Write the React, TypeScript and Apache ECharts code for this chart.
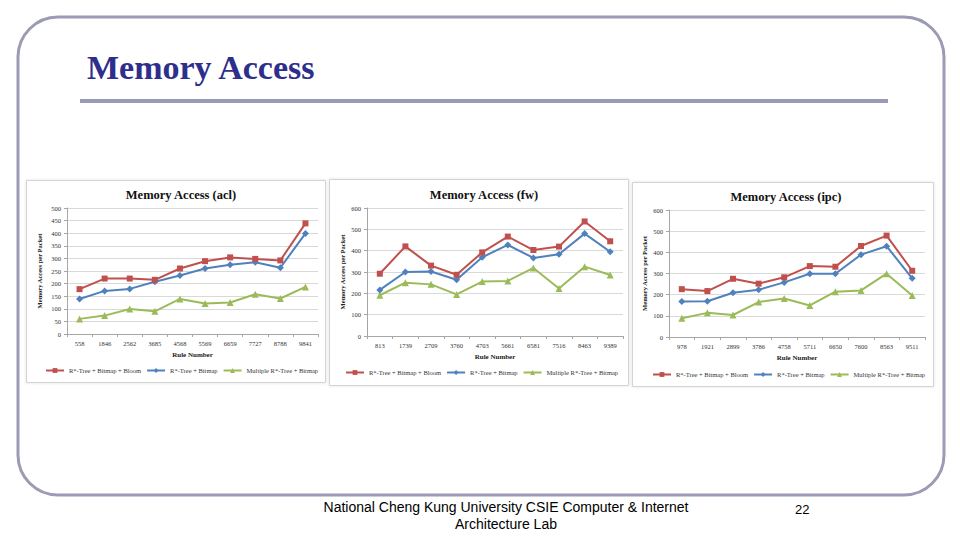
import React, { useEffect, useRef } from "react";
import * as echarts from "echarts";

const seriesNames = ["R*-Tree + Bitmap + Bloom", "R*-Tree + Bitmap", "Multiple R*-Tree + Bitmap"];
const seriesColors = ["#c0504d", "#4f81bd", "#9bbb59"];
const seriesSymbols = ["rect", "diamond", "triangle"];

const chartTitles = ["Memory Access (acl)", "Memory Access (fw)", "Memory Access (ipc)"];

const categoriesAcl = ["558", "1846", "2562", "3685", "4568", "5569", "6659", "7727", "8788", "9841"];
const categoriesFw = ["813", "1739", "2709", "3760", "4703", "5661", "6581", "7516", "8463", "9389"];
const categoriesIpc = ["978", "1921", "2899", "3786", "4758", "5711", "6650", "7600", "8563", "9511"];

const aclBloom = [178, 220, 220, 215, 260, 289, 304, 298, 292, 439];
const aclBitmap = [139, 171, 179, 207, 232, 260, 275, 285, 263, 399];
const aclMultiple = [60, 73, 99, 90, 139, 121, 125, 158, 141, 187];

const fwBloom = [292, 420, 330, 287, 392, 466, 403, 419, 537, 444];
const fwBitmap = [216, 300, 302, 264, 369, 427, 366, 383, 480, 395];
const fwMultiple = [191, 250, 242, 195, 255, 258, 319, 223, 325, 286];

const ipcBloom = [226, 217, 275, 252, 282, 335, 332, 430, 479, 313];
const ipcBitmap = [168, 169, 209, 223, 258, 299, 299, 389, 429, 277];
const ipcMultiple = [89, 114, 104, 165, 182, 149, 214, 220, 299, 196];

const yMax = [500, 600, 600];
const yInterval = [50, 100, 100];

const chartCategories = [categoriesAcl, categoriesFw, categoriesIpc];
const chartValues = [
  [aclBloom, aclBitmap, aclMultiple],
  [fwBloom, fwBitmap, fwMultiple],
  [ipcBloom, ipcBitmap, ipcMultiple],
];

// layout
const panels = [
  { x: 26, y: 180, w: 299, h: 202 },
  { x: 329, y: 179, w: 299, h: 206 },
  { x: 632, y: 182, w: 301, h: 204 },
];
const grids = [
  { left: 67, top: 208, width: 251, height: 126 },
  { left: 367, top: 208, width: 256, height: 128 },
  { left: 669, top: 210, width: 256, height: 127 },
];
const titlePos = [{ x: 176, y: 183 }, { x: 479, y: 183 }, { x: 781, y: 185 }];
const legendTop = [367, 369, 371];
const legendLeft = [45, 345, 652];
const yNameGap = [24, 21, 21];

const serif = "'Liberation Serif', 'DejaVu Serif', serif";

export default function App() {
  const ref = useRef<HTMLDivElement>(null);
  useEffect(() => {
    if (!ref.current) return;
    const chart = echarts.init(ref.current, null, { renderer: "svg" });

    const grid = grids.map((g) => ({ ...g, containLabel: false }));
    const xAxis = chartCategories.map((cats, i) => ({
      type: "category",
      gridIndex: i,
      data: cats,
      boundaryGap: true,
      name: "Rule Number",
      nameLocation: "middle",
      nameGap: 17,
      nameTextStyle: { fontFamily: serif, fontSize: 7, fontWeight: "bold", color: "#222" },
      axisLine: { lineStyle: { color: "#a6a6a6", width: 1 } },
      axisTick: { show: true, length: 3, lineStyle: { color: "#a6a6a6" } },
      axisLabel: { fontFamily: serif, fontSize: 6.5, color: "#333", margin: 6, interval: 0 },
      splitLine: { show: false },
    }));
    const yAxis = yMax.map((m, i) => ({
      type: "value",
      gridIndex: i,
      min: 0,
      max: m,
      interval: yInterval[i],
      name: "Memory Access per Packet",
      nameLocation: "middle",
      nameRotate: 90,
      nameGap: yNameGap[i],
      nameTextStyle: { fontFamily: serif, fontSize: 6.5, fontWeight: "bold", color: "#222" },
      axisLine: { show: true, lineStyle: { color: "#a6a6a6", width: 1 } },
      axisTick: { show: true, length: 3, lineStyle: { color: "#a6a6a6" } },
      axisLabel: { fontFamily: serif, fontSize: 6.5, color: "#333", margin: 6 },
      splitLine: { show: true, lineStyle: { color: "#d9d9d9", width: 1 } },
    }));

    const series: any[] = [];
    chartValues.forEach((vals, ci) => {
      vals.forEach((v, si) => {
        series.push({
          type: "line",
          name: seriesNames[si],
          xAxisIndex: ci,
          yAxisIndex: ci,
          data: v,
          symbol: seriesSymbols[si],
          symbolSize: si === 0 ? 6 : 7,
          showSymbol: true,
          color: seriesColors[si],
          lineStyle: { width: 2, color: seriesColors[si] },
          itemStyle: { color: seriesColors[si] },
          z: 5 - si,
        });
      });
    });

    const legend = legendLeft.map((l, i) => ({
      data: seriesNames,
      left: l,
      top: legendTop[i],
      width: 300,
      padding: 0,
      orient: "horizontal",
      itemWidth: 18,
      itemHeight: 6,
      itemGap: 5,
      selectedMode: false,
      textStyle: { fontFamily: serif, fontSize: 6.5, color: "#333" },
    }));

    const title = chartTitles.map((t, i) => ({
      text: t,
      left: titlePos[i].x,
      top: titlePos[i].y,
      textAlign: "center",
      textStyle: { fontFamily: serif, fontSize: 12.5, fontWeight: "bold", color: "#111" },
    }));

    const graphic: any[] = [
      {
        type: "rect",
        z: -20,
        shape: { x: 18, y: 17, width: 926, height: 478, r: 40 },
        style: { fill: "#ffffff", stroke: "#9b9bb5", lineWidth: 3 },
        silent: true,
      },
      {
        type: "text",
        z: -10,
        x: 87,
        y: 50,
        style: {
          text: "Memory Access",
          fontFamily: serif,
          fontSize: 34,
          fontWeight: "bold",
          fill: "#2e2e8c",
        },
      },
      {
        type: "rect",
        z: -10,
        shape: { x: 80, y: 99, width: 808, height: 4 },
        style: { fill: "#9999b8" },
      },
      {
        type: "text",
        z: -10,
        x: 506,
        y: 498,
        style: {
          text: "National Cheng Kung University CSIE Computer & Internet\nArchitecture Lab",
          align: "center",
          fontFamily: "'Liberation Sans', Arial, sans-serif",
          fontSize: 14,
          lineHeight: 17,
          fill: "#000",
        },
      },
      {
        type: "text",
        z: -10,
        x: 795,
        y: 503,
        style: {
          text: "22",
          fontFamily: "'Liberation Sans', Arial, sans-serif",
          fontSize: 13,
          fill: "#000",
        },
      },
      ...panels.map((p) => ({
        type: "rect",
        z: -15,
        shape: { x: p.x + 0.5, y: p.y + 0.5, width: p.w, height: p.h },
        style: { fill: "#ffffff", stroke: "#d4d4d4", lineWidth: 1, shadowBlur: 3, shadowColor: "rgba(0,0,0,0.12)" },
        silent: true,
      })),
    ];

    chart.setOption({
      animation: false,
      backgroundColor: "#ffffff",
      title,
      legend,
      grid,
      xAxis,
      yAxis,
      series,
      graphic,
    });
    return () => chart.dispose();
  }, []);
  return (
    <div
      ref={ref}
      style={{ position: "fixed", left: 0, top: 0, width: 960, height: 540 }}
    />
  );
}
